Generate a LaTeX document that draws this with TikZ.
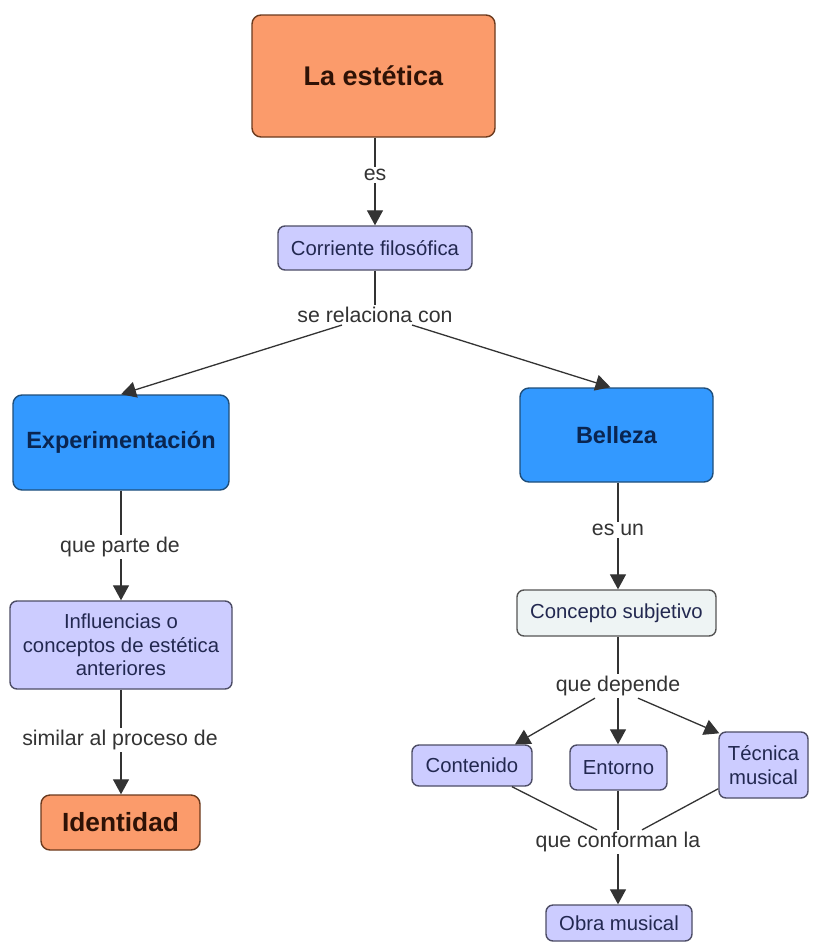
\documentclass[tikz,border=0pt]{standalone}
\usepackage{fontspec}
\setmainfont{Liberation Sans}
\usetikzlibrary{arrows.meta,calc}
\definecolor{orgfill}{HTML}{FB9B6B}
\definecolor{orgdraw}{HTML}{6B3A1E}
\definecolor{orgtext}{HTML}{2E1206}
\definecolor{bluefill}{HTML}{3399FF}
\definecolor{bluedraw}{HTML}{1F4E7A}
\definecolor{bluetext}{HTML}{0A2550}
\definecolor{lavfill}{HTML}{CCCCFF}
\definecolor{lavdraw}{HTML}{4D4D66}
\definecolor{lavtext}{HTML}{222850}
\definecolor{palefill}{HTML}{EEF4F4}
\definecolor{paledraw}{HTML}{555555}
\definecolor{linkgray}{HTML}{333333}
\tikzset{
  box/.style={rounded corners=9pt, line width=1.4pt, align=center, inner sep=2pt},
  mainconcept/.style={box, fill=orgfill, draw=orgdraw, text=orgtext,
    font=\bfseries\fontsize{27}{31}\selectfont},
  keyconcept/.style={box, fill=bluefill, draw=bluedraw, text=bluetext,
    font=\bfseries\fontsize{23.5}{27}\selectfont},
  subconcept/.style={box, rounded corners=7pt, fill=lavfill, draw=lavdraw, text=lavtext,
    font=\fontsize{20.3}{23.5}\selectfont},
  paleconcept/.style={subconcept, fill=palefill, draw=paledraw},
  linkphrase/.style={text=linkgray, inner sep=2pt, font=\fontsize{21.3}{24}\selectfont},
  link/.style={draw=linkgray, line width=1.3pt},
  linkarrow/.style={link, -{Triangle[width=16pt,length=15pt]}},
}
\begin{document}
\begin{tikzpicture}[x=1pt, y=-1pt]
  \useasboundingbox[fill=white] (0,0) rectangle (815,943);

  % concepts
  \node[mainconcept, minimum width=243pt, minimum height=122pt] (est) at (373.5,76) {La estética};
  \node[subconcept, minimum width=194pt, minimum height=44pt] (corr) at (375,248) {Corriente filosófica};
  \node[keyconcept, minimum width=216pt, minimum height=95pt] (exp) at (121,442.5) {Experimentación};
  \node[keyconcept, minimum width=193pt, minimum height=94pt] (bel) at (616.5,435) {Belleza};
  \node[subconcept, minimum width=222pt, minimum height=88pt] (infl) at (121,645)
    {Influencias o\\conceptos de estética\\anteriores};
  \node[mainconcept, font=\bfseries\fontsize{26.3}{30}\selectfont,
    minimum width=159pt, minimum height=55pt] (ident) at (120.5,822.5) {Identidad};
  \node[paleconcept, minimum width=199pt, minimum height=46pt] (conc) at (616.5,613) {Concepto subjetivo};
  \node[subconcept, minimum width=120pt, minimum height=41pt] (cont) at (472,765.5) {Contenido};
  \node[subconcept, minimum width=97pt, minimum height=45pt] (ent) at (618.5,767.5) {Entorno};
  \node[subconcept, minimum width=89pt, minimum height=66pt] (tec) at (763.5,765) {Técnica\\musical};
  \node[subconcept, minimum width=146pt, minimum height=36pt] (obra) at (619,923) {Obra musical};

  % linking phrases
  \node[linkphrase] (l1) at (375,175) {es};
  \node[linkphrase] (l2) at (375,315) {se relaciona con};
  \node[linkphrase] (l3) at (120,547) {que parte de};
  \node[linkphrase] (l4) at (120,740) {similar al proceso de};
  \node[linkphrase] (l5) at (618,530) {es un};
  \node[linkphrase] (l6) at (618,686) {que depende};
  \node[linkphrase] (l7) at (618,842) {que conforman la};

  % connections
  \draw[link] (l1.north |- est.south) -- (l1.north);
  \draw[linkarrow] (l1.south) -- (l1.south |- corr.north);

  \draw[link] (l2.north |- corr.south) -- (l2.north);
  \draw[linkarrow] ([xshift=-33pt]l2.south) -- (exp.north);
  \draw[linkarrow] ([xshift=37pt]l2.south) -- ([xshift=-6pt]bel.north);

  \draw[link] (exp.south) -- (exp.south |- l3.north);
  \draw[linkarrow] (infl.north |- l3.south) -- (infl.north);
  \draw[link] (infl.south) -- (infl.south |- l4.north);
  \draw[linkarrow] (infl.south |- l4.south) -- (infl.south |- ident.north);

  \draw[link] (l5.north |- bel.south) -- (l5.north);
  \draw[linkarrow] (l5.south) -- (l5.south |- conc.north);

  \draw[link] (l6.north |- conc.south) -- (l6.north);
  \draw[linkarrow] ([xshift=-23pt]l6.south) -- ([xshift=43pt]cont.north);
  \draw[linkarrow] (l6.south) -- (l6.south |- ent.north);
  \draw[linkarrow] ([xshift=20pt]l6.south) -- ([xshift=1pt,yshift=-2pt]tec.north west);

  \draw[link] ([xshift=40pt]cont.south) -- ([xshift=-21pt]l7.north);
  \draw[link] (l7.north |- ent.south) -- (l7.north);
  \draw[link] ([yshift=10pt]tec.south west) -- ([xshift=24pt]l7.north);
  \draw[linkarrow] (l7.south) -- (l7.south |- obra.north);
\end{tikzpicture}
\end{document}
